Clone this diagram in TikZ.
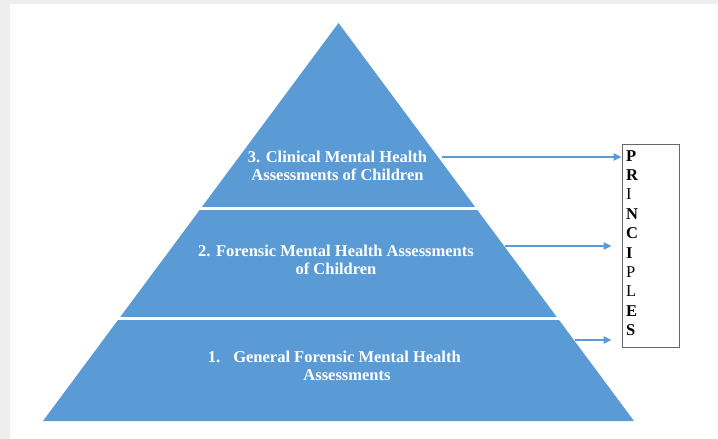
\documentclass[tikz,border=0pt]{standalone}
\usepackage{fontspec}
\setmainfont{Liberation Serif}
\usetikzlibrary{arrows.meta,positioning}

\definecolor{tierblue}{HTML}{5B9BD5}
\definecolor{pagegray}{HTML}{EEEEEE}

\tikzset{
	tiertext/.style={text=white, font=\bfseries\fontsize{16.5}{18.5}\selectfont, align=center, inner sep=0pt},
	link/.style={draw=tierblue, line width=2pt, -{Triangle[length=8pt,width=7pt]}},
	divider/.style={draw=white, line width=3pt}
}

\begin{document}
\begin{tikzpicture}[x=1pt, y=-1pt]
	% page and canvas
	\fill[pagegray] (0,0) rectangle (718,439);
	\fill[white] (10,4) rectangle (718,439);
	\useasboundingbox (0,0) rectangle (718,439);

	% pyramid:
	\coordinate (apex) at (338.5,23);
	\coordinate (baseL) at (43,421);
	\coordinate (baseR) at (634,421);
	\fill[tierblue] (apex) -- (baseR) -- (baseL) -- cycle;
	\draw[divider] (150,208) -- (530,208);
	\draw[divider] (80,318) -- (600,318);

	% tiers
	\node[tiertext] (tierC) at (337.5,166) {3. Clinical Mental Health\\Assessments of Children};
	\node[tiertext] (tierB) at (336,260) {2. Forensic Mental Health Assessments\\of Children};
	\node[tiertext] (tierA) at (347,366) {\llap{1.\hspace{13pt}}General Forensic Mental Health\\Assessments};

	% box on the right
	\node[draw=black!60, line width=0.8pt, minimum width=57pt, minimum height=203pt, inner sep=0pt] (principles) at (650.5,245.5) {};
	\node[anchor=north west, align=left, inner sep=0pt, font=\fontsize{16.5}{19.4}\selectfont] (letters) at (626,150)
		{\textbf{P}\\\textbf{R}\\I\\\textbf{N}\\\textbf{C}\\\textbf{I}\\P\\L\\\textbf{E}\\\textbf{S}};

	% arrows
	\coordinate (arrowC) at (442,157);
	\coordinate (arrowB) at (505,246);
	\coordinate (arrowA) at (575,340);
	\draw[link] (arrowC) -- (arrowC -| principles.west);
	\draw[link, shorten >=10pt] (arrowB) -- (arrowB -| principles.west);
	\draw[link, shorten >=10pt] (arrowA) -- (arrowA -| principles.west);
\end{tikzpicture}
\end{document}
